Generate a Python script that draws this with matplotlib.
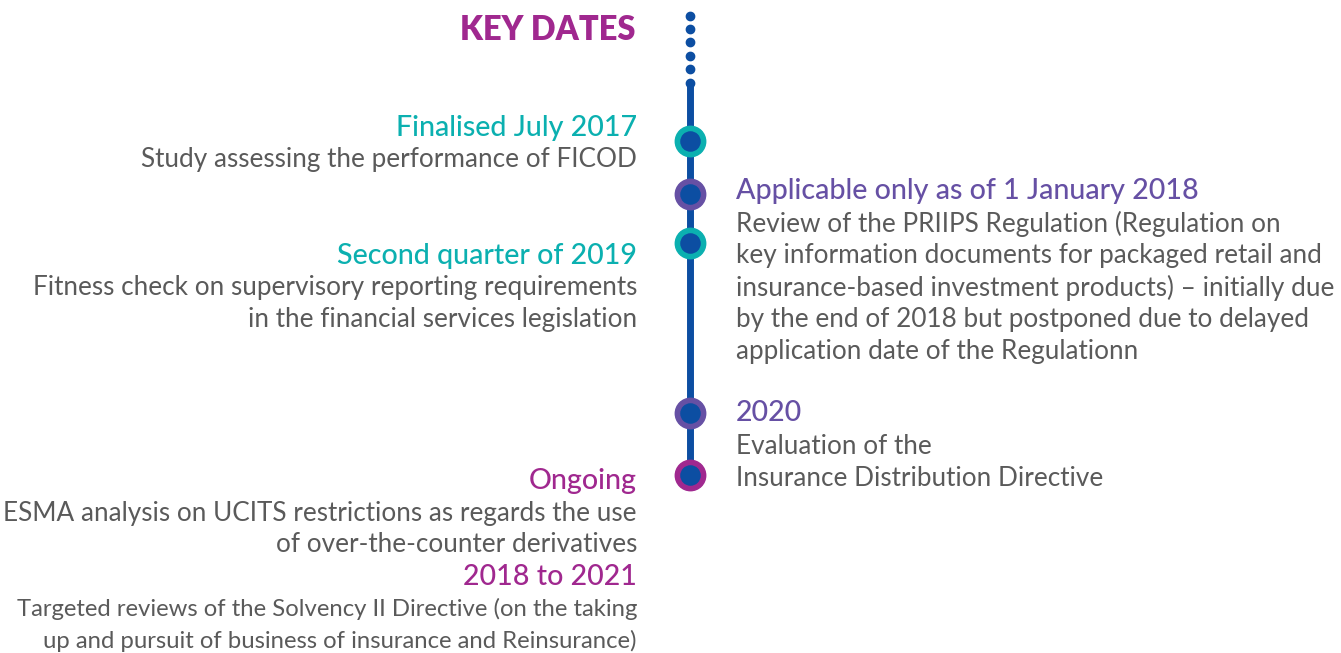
import matplotlib
matplotlib.use('Agg')
from matplotlib import pyplot as plt

# timeline content
left_heads = ['Finalised July 2017', 'Second quarter of 2019', 'Ongoing', '2018 to 2021']
left_bodies = [
    ['Study assessing the performance of FICOD'],
    ['Fitness check on supervisory reporting requirements',
     'in the financial services legislation'],
    ['ESMA analysis on UCITS restrictions as regards the use',
     'of over-the-counter derivatives'],
    ['Targeted reviews of the Solvency II Directive (on the taking',
     'up and pursuit of business of insurance and Reinsurance)'],
]
right_heads = ['Applicable only as of 1 January 2018', '2020']
right_bodies = [
    ['Review of the PRIIPS Regulation (Regulation on',
     'key information documents for packaged retail and',
     'insurance-based investment products) \u2013 initially due',
     'by the end of 2018 but postponed due to delayed',
     'application date of the Regulationn'],
    ['Evaluation of the', 'Insurance Distribution Directive'],
]
marker_colors = ['teal', 'purple', 'teal', 'purple', 'magenta']

TEAL = '#0bb0b0'
PURPLE = '#6650a4'
MAGENTA = '#a0288f'
BLUE = '#0c4ea2'
GREY = '#5a5a5a'
cmap = {'teal': TEAL, 'purple': PURPLE, 'magenta': MAGENTA}

# layout (pixels)
W, H = 1341, 653
xline = 690
marker_y = [141, 194, 243, 413, 475]
left_head_y = [128, 256, 481, 577]
right_head_y = [191, 413]
left_head_col = [TEAL, TEAL, MAGENTA, MAGENTA]
right_head_col = [PURPLE, PURPLE]
left_body_fs = [18.8, 18.8, 18.8, 17.2]   # last block is set narrower in the original
step = 32

FONT = 'Lato'
head_fs = 20.6
body_fs = 18.8

fig = plt.figure(figsize=(W / 100, H / 100), dpi=100)
ax = fig.add_axes([0, 0, 1, 1])
ax.set_xlim(0, W)
ax.set_ylim(H, 0)
ax.axis('off')

# dotted lead-in and main line
ax.scatter([xline] * 6, [16, 29, 42, 56, 69, 83], s=36, color=BLUE, zorder=2)
ax.plot([xline, xline], [83, 475], color=BLUE, lw=5, solid_capstyle='round', zorder=1)
for y, c in zip(marker_y, marker_colors):
    ax.scatter(xline, y, s=480, color=cmap[c], zorder=3)
    ax.scatter(xline, y, s=190, color=BLUE, zorder=4)

ax.text(636, 30, 'KEY DATES', ha='right', va='center', color=MAGENTA,
        fontsize=23.5, fontweight='heavy', family=FONT)

for head, body, y, col, bfs in zip(left_heads, left_bodies, left_head_y, left_head_col, left_body_fs):
    ax.text(637, y, head, ha='right', va='center', color=col, fontsize=head_fs,
            family=FONT, fontweight='medium')
    for i, line in enumerate(body):
        ax.text(637, y + step * (i + 1), line, ha='right', va='center', color=GREY,
                fontsize=bfs, family=FONT)

for head, body, y, col in zip(right_heads, right_bodies, right_head_y, right_head_col):
    ax.text(736, y, head, ha='left', va='center', color=col, fontsize=head_fs,
            family=FONT, fontweight='medium')
    for i, line in enumerate(body):
        ax.text(736, y + step * (i + 1) + 1, line, ha='left', va='center', color=GREY,
                fontsize=body_fs, family=FONT)

plt.savefig('out.png', dpi=100)
